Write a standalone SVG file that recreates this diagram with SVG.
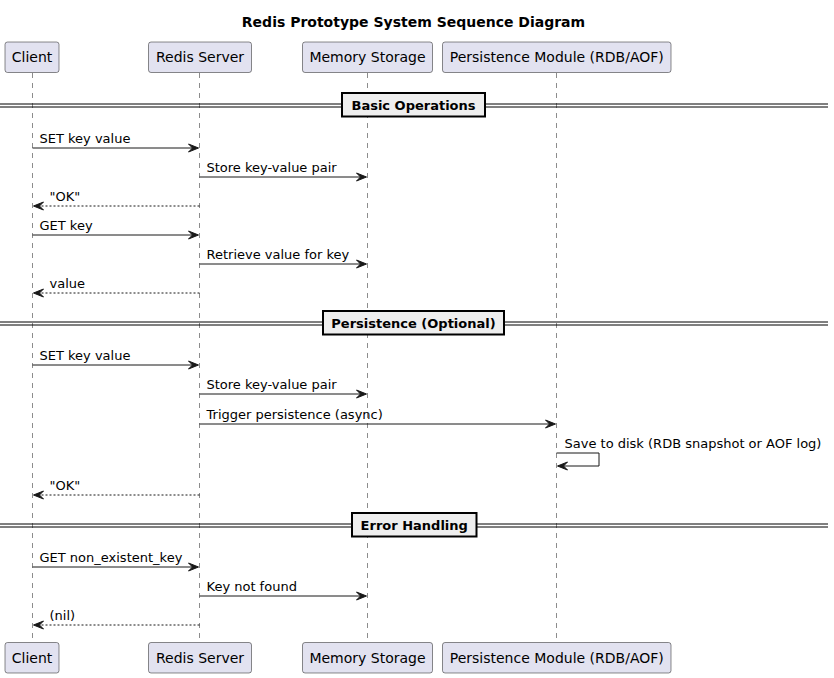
<svg xmlns="http://www.w3.org/2000/svg" width="834" height="678" viewBox="0 0 834 678">
<style>
text{font-family:"DejaVu Sans","Liberation Sans",sans-serif;fill:#000}
.title{font-size:14px;font-weight:bold}
.pbox{fill:#E2E2F0;stroke:#181818;stroke-width:0.5}
.plabel{font-size:14px}
.life{stroke:#181818;stroke-width:0.5;stroke-dasharray:5,5;fill:none}
.msg{stroke:#181818;stroke-width:1;fill:none}
.ret{stroke:#181818;stroke-width:1;fill:none;stroke-dasharray:2,2}
.head{fill:#181818;stroke:#181818;stroke-width:1}
.mtext{font-size:13px}
.dline{stroke:#000;stroke-width:1}
.dbox{fill:#EEEEEE;stroke:#000;stroke-width:2}
.dtext{font-size:13px;font-weight:bold}
</style>
<rect width="834" height="678" fill="#FFFFFF"/>
<text class="title" x="413.5" y="27" text-anchor="middle">Redis Prototype System Sequence Diagram</text>

<g id="lifelines">
<line class="life" x1="32.5" y1="73" x2="32.5" y2="642"/>
<line class="life" x1="199.5" y1="73" x2="199.5" y2="642"/>
<line class="life" x1="367.5" y1="73" x2="367.5" y2="642"/>
<line class="life" x1="556.5" y1="73" x2="556.5" y2="642"/>
</g>

<g id="client">
<rect class="pbox" x="5" y="42" width="54" height="30.5" rx="2.5"/>
<text class="plabel" x="32" y="62" text-anchor="middle">Client</text>
<rect class="pbox" x="5" y="642.5" width="54" height="30.5" rx="2.5"/>
<text class="plabel" x="32" y="662.5" text-anchor="middle">Client</text>
</g>
<g id="redis-server">
<rect class="pbox" x="148.5" y="42" width="103" height="30.5" rx="2.5"/>
<text class="plabel" x="200" y="62" text-anchor="middle">Redis Server</text>
<rect class="pbox" x="148.5" y="642.5" width="103" height="30.5" rx="2.5"/>
<text class="plabel" x="200" y="662.5" text-anchor="middle">Redis Server</text>
</g>
<g id="memory-storage">
<rect class="pbox" x="302.5" y="42" width="130" height="30.5" rx="2.5"/>
<text class="plabel" x="367.5" y="62" text-anchor="middle">Memory Storage</text>
<rect class="pbox" x="302.5" y="642.5" width="130" height="30.5" rx="2.5"/>
<text class="plabel" x="367.5" y="662.5" text-anchor="middle">Memory Storage</text>
</g>
<g id="persistence-module">
<rect class="pbox" x="442.5" y="42" width="228.5" height="30.5" rx="2.5"/>
<text class="plabel" x="556.75" y="62" text-anchor="middle">Persistence Module (RDB/AOF)</text>
<rect class="pbox" x="442.5" y="642.5" width="228.5" height="30.5" rx="2.5"/>
<text class="plabel" x="556.75" y="662.5" text-anchor="middle">Persistence Module (RDB/AOF)</text>
</g>

<g id="dividers">
<g id="div-basic">
<line class="dline" x1="0" y1="104" x2="828" y2="104"/>
<line class="dline" x1="0" y1="107" x2="828" y2="107"/>
<rect class="dbox" x="342" y="93" width="143" height="23.5"/>
<text class="dtext" x="413.5" y="109.5" text-anchor="middle">Basic Operations</text>
</g>
<g id="div-persistence">
<line class="dline" x1="0" y1="322" x2="828" y2="322"/>
<line class="dline" x1="0" y1="325" x2="828" y2="325"/>
<rect class="dbox" x="323" y="311" width="181" height="23.5"/>
<text class="dtext" x="413.5" y="327.5" text-anchor="middle">Persistence (Optional)</text>
</g>
<g id="div-error">
<line class="dline" x1="0" y1="524" x2="828" y2="524"/>
<line class="dline" x1="0" y1="527" x2="828" y2="527"/>
<rect class="dbox" x="352" y="513" width="124.5" height="23.5"/>
<text class="dtext" x="414.25" y="529.5" text-anchor="middle">Error Handling</text>
</g>
</g>

<g id="connectors">
<!-- Basic -->
<line class="msg" x1="32.5" y1="148" x2="194.5" y2="148"/>
<polygon class="head" points="188.5,144 198.5,148 188.5,152 192.5,148"/>
<text class="mtext" x="39.5" y="143">SET key value</text>

<line class="msg" x1="199.5" y1="177" x2="362.5" y2="177"/>
<polygon class="head" points="356.5,173 366.5,177 356.5,181 360.5,177"/>
<text class="mtext" x="206.5" y="172">Store key-value pair</text>

<line class="ret" x1="37.5" y1="206" x2="199.5" y2="206"/>
<polygon class="head" points="43.5,202 33.5,206 43.5,210 39.5,206"/>
<text class="mtext" x="49.5" y="201">"OK"</text>

<line class="msg" x1="32.5" y1="235" x2="194.5" y2="235"/>
<polygon class="head" points="188.5,231 198.5,235 188.5,239 192.5,235"/>
<text class="mtext" x="39.5" y="230">GET key</text>

<line class="msg" x1="199.5" y1="264" x2="362.5" y2="264"/>
<polygon class="head" points="356.5,260 366.5,264 356.5,268 360.5,264"/>
<text class="mtext" x="206.5" y="259">Retrieve value for key</text>

<line class="ret" x1="37.5" y1="293" x2="199.5" y2="293"/>
<polygon class="head" points="43.5,289 33.5,293 43.5,297 39.5,293"/>
<text class="mtext" x="49.5" y="288">value</text>

<!-- Persistence -->
<line class="msg" x1="32.5" y1="365" x2="194.5" y2="365"/>
<polygon class="head" points="188.5,361 198.5,365 188.5,369 192.5,365"/>
<text class="mtext" x="39.5" y="360">SET key value</text>

<line class="msg" x1="199.5" y1="394" x2="362.5" y2="394"/>
<polygon class="head" points="356.5,390 366.5,394 356.5,398 360.5,394"/>
<text class="mtext" x="206.5" y="389">Store key-value pair</text>

<line class="msg" x1="199.5" y1="424" x2="551.5" y2="424"/>
<polygon class="head" points="545.5,420 555.5,424 545.5,428 549.5,424"/>
<text class="mtext" x="206.5" y="419">Trigger persistence (async)</text>

<polyline class="msg" points="556.5,453 599,453 599,466 561.5,466"/>
<polygon class="head" points="567.5,462 557.5,466 567.5,470 563.5,466"/>
<text class="mtext" x="564.5" y="448">Save to disk (RDB snapshot or AOF log)</text>

<line class="ret" x1="37.5" y1="495" x2="199.5" y2="495"/>
<polygon class="head" points="43.5,491 33.5,495 43.5,499 39.5,495"/>
<text class="mtext" x="49.5" y="490">"OK"</text>

<!-- Error -->
<line class="msg" x1="32.5" y1="567" x2="194.5" y2="567"/>
<polygon class="head" points="188.5,563 198.5,567 188.5,571 192.5,567"/>
<text class="mtext" x="39.5" y="562">GET non_existent_key</text>

<line class="msg" x1="199.5" y1="596" x2="362.5" y2="596"/>
<polygon class="head" points="356.5,592 366.5,596 356.5,600 360.5,596"/>
<text class="mtext" x="206.5" y="591">Key not found</text>

<line class="ret" x1="37.5" y1="625" x2="199.5" y2="625"/>
<polygon class="head" points="43.5,621 33.5,625 43.5,629 39.5,625"/>
<text class="mtext" x="49.5" y="620">(nil)</text>
</g>
</svg>
